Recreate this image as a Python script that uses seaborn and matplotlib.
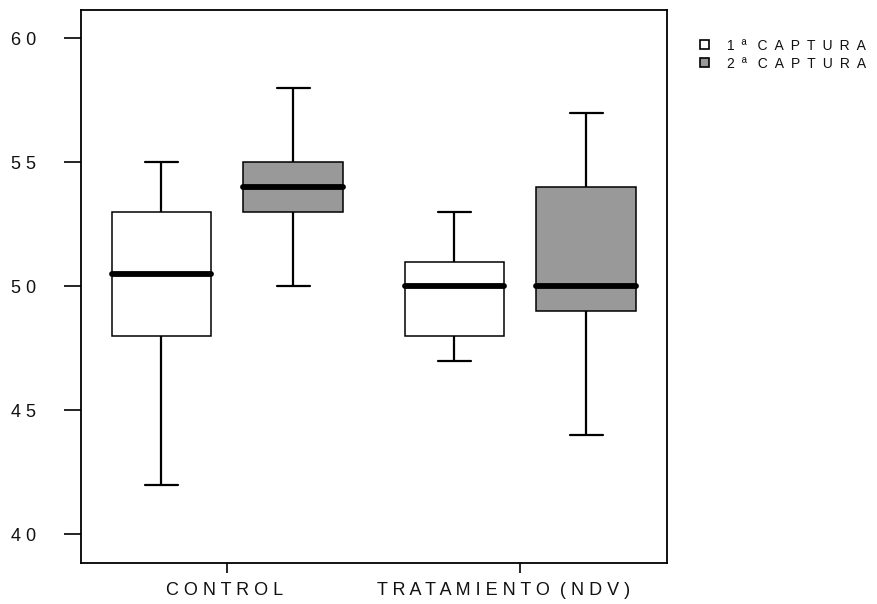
import numpy as np
import pandas as pd
import matplotlib
matplotlib.use("Agg")
import matplotlib.pyplot as plt
from matplotlib.patches import Patch
from matplotlib.transforms import ScaledTranslation
import seaborn as sns

# Categories
grupos = ["CONTROL", "TRATAMIENTO (NDV)"]
capturas = ["1ª CAPTURA", "2ª CAPTURA"]
colores = ["#ffffff", "#999999"]

# Five-number summary of each box (grupo x captura)
caja_grupo = ["CONTROL", "CONTROL", "TRATAMIENTO (NDV)", "TRATAMIENTO (NDV)"]
caja_captura = ["1ª CAPTURA", "2ª CAPTURA", "1ª CAPTURA", "2ª CAPTURA"]
minimo = [42, 50, 47, 44]
q1 = [48, 53, 48, 49]
mediana = [50.5, 54, 50, 50]
q3 = [53, 55, 51, 54]
maximo = [55, 58, 53, 57]

yticks = [40, 45, 50, 55, 60]


def espaciado(texto, letra=" ", palabra="  "):
    """Letter-spaced label: `letra` between letters, `palabra` between words."""
    return palabra.join(letra.join(p) for p in texto.split(" "))


# Each box is drawn from its five summary values (quartiles fall exactly on them)
filas = []
for g, c, a, b, m, d, e in zip(caja_grupo, caja_captura, minimo, q1, mediana, q3, maximo):
    for v in (a, b, m, d, e):
        filas.append({"grupo": g, "captura": c, "valor": v})
df = pd.DataFrame(filas)

sns.set_style("ticks")
plt.rcParams["font.family"] = ["Liberation Sans", "DejaVu Sans"]

fig = plt.figure(figsize=(8.78, 6.04), dpi=100)
ax = fig.add_axes([80.7 / 878, 1 - 563 / 604, (666.7 - 80.7) / 878, (563 - 10) / 604])

sns.boxplot(
    data=df, x="grupo", y="valor", hue="captura",
    order=grupos, hue_order=capturas,
    palette=dict(zip(capturas, colores)), saturation=1,
    width=0.9, gap=0.245, whis=(0, 100),
    linecolor="black", linewidth=1.1, fliersize=0, legend=False,
    medianprops=dict(color="black", linewidth=4.2, solid_capstyle="round"),
    whiskerprops=dict(color="black", linewidth=1.6),
    capprops=dict(color="black", linewidth=1.6),
    capwidths=0.113,
    ax=ax,
)

ax.set_xlim(-0.5, 1.5)
ax.set_ylim(38.85, 61.14)
ax.set_yticks(yticks)
ax.set_yticklabels([" ".join(str(v)) for v in yticks])
ax.set_xticks(range(len(grupos)))
ax.set_xticklabels([espaciado(g) for g in grupos])
ax.set_xlabel("")
ax.set_ylabel("")

ax.tick_params(axis="y", length=12.5, width=1.2, pad=19.5, labelsize=13,
               color="black", labelcolor="#111111")
ax.tick_params(axis="x", length=7.2, width=1.2, pad=6.5, labelsize=13,
               color="black", labelcolor="#111111")
for s in ax.spines.values():
    s.set_visible(True)
    s.set_linewidth(1.3)
    s.set_color("black")

# Slight horizontal shift of the category labels
for lab, dx in zip(ax.get_xticklabels(), [-3, -17]):
    lab.set_transform(lab.get_transform() + ScaledTranslation(dx / 100, 0, fig.dpi_scale_trans))

handles = [Patch(facecolor=c, edgecolor="black", linewidth=1.2) for c in colores]
fig.legend(
    handles, [espaciado(c, letra="\u2002", palabra="\u2002 ") for c in capturas],
    loc="upper left", bbox_to_anchor=(700 / 878, 1 - 38.5 / 604),
    frameon=False, fontsize=10, handlelength=0.65, handleheight=0.65,
    handletextpad=1.3, labelspacing=0.3, borderpad=0, borderaxespad=0,
    labelcolor="#111111",
)

fig.savefig("out.png", dpi=100)
